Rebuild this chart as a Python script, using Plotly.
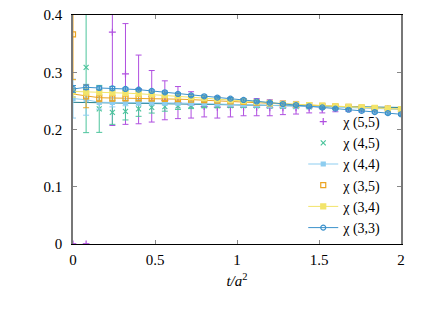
import plotly.graph_objects as go

x = [round(0.08 * i, 2) for i in range(26)]

# chi(5,5)
y55 = [0.0, 0.0, None, 0.370, 0.297, 0.270, 0.258, 0.251, 0.247, 0.243, 0.240, 0.239, 0.239,
       0.239, 0.239, 0.238, 0.238, 0.238, 0.238, 0.237, 0.237, 0.237, 0.236, 0.236, 0.236, 0.235]
e55 = [0.0, 0.0, 0.0, 0.163, 0.088, 0.060, 0.045, 0.034, 0.028, 0.023, 0.018, 0.019, 0.017,
       0.015, 0.015, 0.014, 0.012, 0.011, 0.009, 0.008, 0.006, 0.005, 0.004, 0.003, 0.003, 0.003]
# chi(4,5)
y45 = [None, 0.3085, 0.236, 0.230, 0.2317, 0.236, 0.2387, 0.240, 0.2410, 0.2415, 0.2420, 0.2420, 0.2420,
       0.2418, 0.2415, 0.2410, 0.2405, 0.2400, 0.2395, 0.2390, 0.2385, 0.2380, 0.2375, 0.2370, 0.2365, 0.2360]
e45 = [0.0, 0.114, 0.041, 0.021, 0.015, 0.013, 0.010, 0.008, 0.006, 0.005, 0.004, 0.004, 0.003,
       0.003, 0.003, 0.003, 0.003, 0.002, 0.002, 0.002, 0.002, 0.002, 0.002, 0.002, 0.002, 0.002]
# chi(4,4)
y44 = [0.254, 0.252, 0.2475, 0.2475, 0.2475, 0.2473, 0.2470, 0.2466, 0.2462, 0.2457, 0.2452, 0.2447, 0.2441,
       0.2435, 0.2429, 0.2423, 0.2417, 0.2411, 0.2405, 0.2398, 0.2391, 0.2384, 0.2376, 0.2368, 0.2360, 0.2352]
e44 = [0.034, 0.027, 0.012, 0.008, 0.006, 0.005, 0.004, 0.004, 0.003, 0.003, 0.003, 0.002, 0.002,
       0.002, 0.002, 0.002, 0.002, 0.002, 0.002, 0.002, 0.002, 0.002, 0.002, 0.002, 0.002, 0.002]
# chi(3,5)
y35 = [0.366, 0.258, 0.2545, 0.2545, 0.2545, 0.2543, 0.2540, 0.2535, 0.2530, 0.2522, 0.2513, 0.2503, 0.2493,
       0.2482, 0.2470, 0.2458, 0.2447, 0.2436, 0.2425, 0.2414, 0.2404, 0.2394, 0.2384, 0.2374, 0.2364, 0.2354]
e35 = [0.079, 0.020, 0.006, 0.005, 0.004, 0.004, 0.003, 0.003, 0.003, 0.002, 0.002, 0.002, 0.002,
       0.002, 0.002, 0.002, 0.002, 0.002, 0.002, 0.002, 0.002, 0.002, 0.002, 0.002, 0.002, 0.002]
# chi(3,5) curve through the data
c35 = [0.262, 0.259, 0.2555, 0.2550, 0.2548, 0.2545, 0.2541, 0.2536, 0.2530, 0.2522, 0.2513, 0.2503, 0.2493,
       0.2482, 0.2470, 0.2458, 0.2447, 0.2436, 0.2425, 0.2414, 0.2404, 0.2394, 0.2384, 0.2374, 0.2364, 0.2354]
# chi(3,4)
y34 = [0.2665, 0.2660, 0.2650, 0.2642, 0.2635, 0.2625, 0.2612, 0.2598, 0.2582, 0.2565, 0.2548, 0.2530, 0.2512,
       0.2495, 0.2480, 0.2466, 0.2452, 0.2440, 0.2428, 0.2417, 0.2406, 0.2396, 0.2386, 0.2376, 0.2366, 0.2356]
e34 = [0.010, 0.006, 0.004, 0.003, 0.003, 0.003, 0.002, 0.002, 0.002, 0.002, 0.002, 0.002, 0.002,
       0.002, 0.002, 0.002, 0.002, 0.002, 0.002, 0.002, 0.002, 0.002, 0.002, 0.002, 0.002, 0.002]
# chi(3,3)
y33 = [0.2708, 0.2737, 0.2725, 0.2720, 0.2708, 0.2696, 0.2673, 0.2650, 0.2621, 0.2597, 0.2580, 0.2557, 0.2539,
       0.2516, 0.2490, 0.2468, 0.2445, 0.2425, 0.2405, 0.2385, 0.2365, 0.2345, 0.2325, 0.2305, 0.2285, 0.2266]
e33 = [0.006, 0.004, 0.003, 0.003, 0.002, 0.002, 0.002, 0.002, 0.002, 0.002, 0.002, 0.002, 0.002,
       0.002, 0.002, 0.002, 0.002, 0.002, 0.002, 0.002, 0.002, 0.002, 0.002, 0.002, 0.002, 0.002]

# straight reference line
fit_x = [0.0, 2.0]
fit_y = [0.2475, 0.2385]

labels = ["χ (5,5)", "χ (4,5)", "χ (4,4)", "χ (3,5)", "χ (3,4)", "χ (3,3)"]
ys = [y55, y45, y44, y35, y34, y33]
es = [e55, e45, e44, e35, e34, e33]
colors = ["#b04fe0", "#4cc49c", "#8dcdf0", "#eba422", "#f2e46a", "#3c92cc"]
symbols = ["cross-thin", "x-thin", "square", "square-open", "square", "circle-open"]
sizes = [5, 5, 4, 5, 5, 5]
modes = ["markers", "markers", "lines+markers", "markers", "lines+markers", "lines+markers"]

SERIF = "Liberation Serif"

fig = go.Figure()
fig.add_trace(go.Scatter(x=fit_x, y=fit_y, mode="lines", line=dict(color="#1f7d8c", width=1),
                         showlegend=False, hoverinfo="skip"))
fig.add_trace(go.Scatter(x=x, y=c35, mode="lines", line=dict(color=colors[3], width=1),
                         showlegend=False, hoverinfo="skip"))
for lab, yy, ee, c, s, sz, md in zip(labels, ys, es, colors, symbols, sizes, modes):
    fig.add_trace(go.Scatter(
        x=x, y=yy, name=lab, mode=md,
        line=dict(color=c, width=1),
        marker=dict(symbol=s, size=sz, color=c, line=dict(color=c, width=1.2)),
        error_y=dict(type="data", array=ee, color=c, thickness=1, width=3, visible=True),
        connectgaps=False,
    ))

# page body adds an 8px offset; margins compensate so the plot box lands at 73..401 x 15..244
fig.update_layout(
    width=442, height=309,
    margin=dict(l=65, r=49, t=7, b=73, autoexpand=False),
    paper_bgcolor="white", plot_bgcolor="white",
    font=dict(family=SERIF, size=15, color="black"),
    legend=dict(x=0.955, y=0.0, xanchor="right", yanchor="bottom",
                bgcolor="rgba(0,0,0,0)", font=dict(family=SERIF, size=14), traceorder="normal",
                itemwidth=30, tracegroupgap=0),
)
fig.update_xaxes(range=[0, 2], tickvals=[0, 0.5, 1, 1.5, 2], ticktext=["0", "0.5", "1", "1.5", "2"],
                 ticks="inside", ticklen=4, tickcolor="#888", showgrid=False, zeroline=False,
                 showline=True, linecolor="black", linewidth=1, mirror="ticks",
                 ticklabelstandoff=2, automargin=False, ticklabeloverflow="allow",
                 tickfont=dict(family=SERIF, size=15),
                 title=dict(text="<i>t/a</i><sup>2</sup>", standoff=8, font=dict(family=SERIF, size=15)))
fig.update_yaxes(range=[0, 0.4], tickvals=[0, 0.1, 0.2, 0.3, 0.4], ticktext=["0", "0.1", "0.2", "0.3", "0.4"],
                 ticks="inside", ticklen=4, tickcolor="#888", showgrid=False, zeroline=False,
                 showline=True, linecolor="#777", linewidth=1.5, mirror="ticks",
                 ticklabelstandoff=6, automargin=False, ticklabeloverflow="allow",
                 tickfont=dict(family=SERIF, size=15))

fig.write_html("out.html")
